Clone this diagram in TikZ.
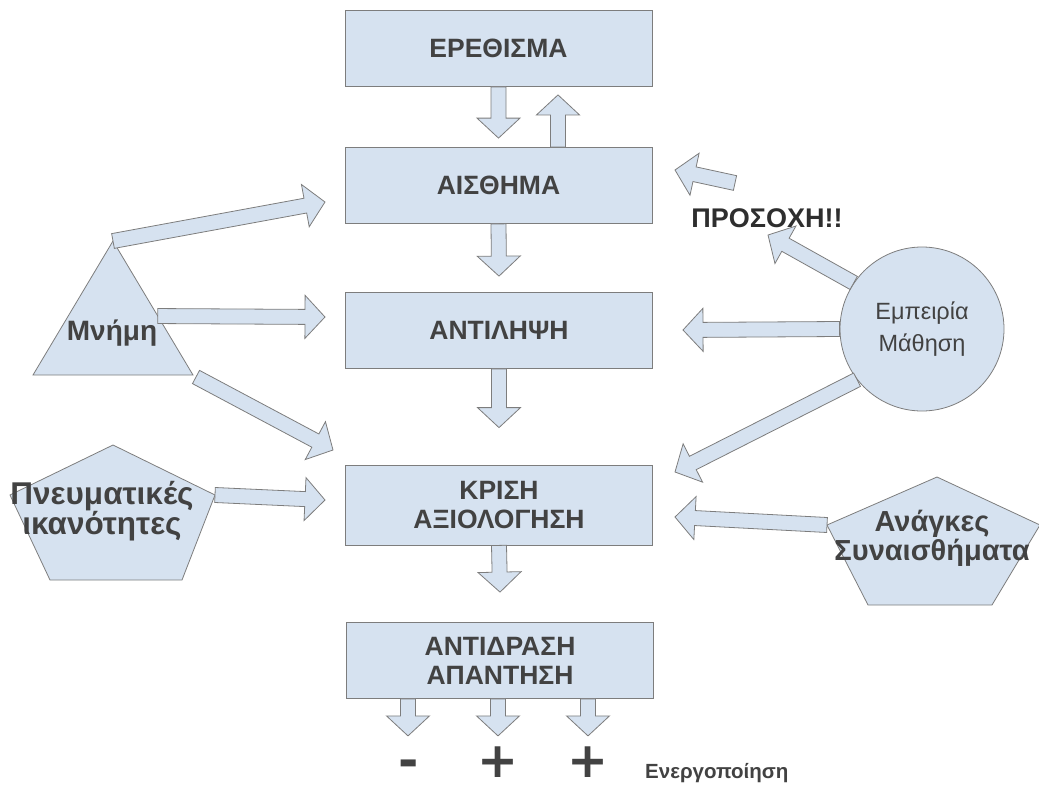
\documentclass[tikz,border=0pt]{standalone}
\usepackage{fontspec}
\setmainfont{Liberation Sans}
\newfontfamily\signfont{DejaVu Sans}
\usepackage{tikz}
\usetikzlibrary{calc,positioning}

\definecolor{boxfill}{RGB}{214,226,240}
\definecolor{boxline}{RGB}{125,125,125}
\definecolor{ink}{RGB}{66,66,66}

\tikzset{
  stage/.style={draw=boxline, fill=boxfill, line width=0.8pt, minimum width=307pt,
    minimum height=76pt, align=center, text=ink, font=\bfseries\fontsize{26.5}{29}\selectfont},
  figfill/.style={draw=boxline, fill=boxfill, line width=0.8pt, line join=miter},
  sidetext/.style={align=center, text=ink, inner sep=0pt, font=\bfseries\fontsize{29}{29}\selectfont},
  fatarrow/.style={draw=boxline, fill=boxfill, line width=0.8pt, line join=miter},
  sign/.style={text=ink, inner sep=0pt, anchor=base, text depth=0pt,
    font=\signfont\bfseries\fontsize{49}{49}\selectfont}
}

% wide hollow arrow from #1 to #2
\newcommand\blockarrow[2]{%
  \draw[fatarrow] ($(#1)!7.5pt!90:(#2)$)
    -- ($(#2)!20pt!(#1)!7.5pt!90:(#2)$) -- ($(#2)!20pt!(#1)!21.5pt!90:(#2)$)
    -- (#2)
    -- ($(#2)!20pt!(#1)!21.5pt!-90:(#2)$) -- ($(#2)!20pt!(#1)!7.5pt!-90:(#2)$)
    -- ($(#1)!7.5pt!-90:(#2)$) -- cycle;}

\begin{document}
\begin{tikzpicture}[x=1pt,y=-1pt]
\useasboundingbox (0,0) rectangle (1039,790);

%%% HELP LINES - uncomment to design
% \draw[step=50,gray,very thin] (0,0) grid (1039,790);

%% Main column
\node[stage] (erethisma) at (498.5,48.5) {ΕΡΕΘΙΣΜΑ};
\node[stage] (aisthima) at (498.5,185.5) {ΑΙΣΘΗΜΑ};
\node[stage] (antilipsi) at (499,330.5) {ΑΝΤΙΛΗΨΗ};
\node[stage, minimum height=80pt] (krisi) at (499,505) {ΚΡΙΣΗ\\ΑΞΙΟΛΟΓΗΣΗ};
\node[stage] (antidrasi) at (500,660.5) {ΑΝΤΙΔΡΑΣΗ\\ΑΠΑΝΤΗΣΗ};

% down / up between boxes
\coordinate (d1) at ($(aisthima.north)+(0,-9)$);
\blockarrow{erethisma.south}{d1}
\coordinate (u0) at ($(aisthima.north)+(59.5,0)$);
\coordinate (u1) at ($(erethisma.south)+(59.5,8)$);
\blockarrow{u0}{u1}
\coordinate (d2) at ($(antilipsi.north)+(0,-16)$);
\blockarrow{aisthima.south}{d2}
\coordinate (d3) at ($(krisi.north)+(0,-37)$);
\blockarrow{antilipsi.south}{d3}
\coordinate (d4) at ($(antidrasi.north)+(0,-30)$);
\blockarrow{krisi.south}{d4}

%% Mnimi (triangle)
\coordinate (mn-top) at (113,241);
\coordinate (mn-right) at (193,375);
\coordinate (mn-left) at (33,375);
\draw[figfill] (mn-top) -- (mn-right) -- (mn-left) -- cycle;
\node[sidetext, font=\bfseries\fontsize{28}{28}\selectfont] (mnimi) at (112,333) {Μνήμη};

\coordinate (mn-t1) at (325,202);
\blockarrow{mn-top}{mn-t1}
\coordinate (mn-s2) at ($(mn-top)!0.56!(mn-right)$);
\coordinate (mn-t2) at (325,317);
\blockarrow{mn-s2}{mn-t2}
\coordinate (mn-s3) at ($(mn-right)+(3,2)$);
\coordinate (mn-t3) at (333,450);
\blockarrow{mn-s3}{mn-t3}

%% Pneumatikes (pentagon)
\coordinate (pn-top) at (113,445);
\coordinate (pn-right) at (215,495);
\coordinate (pn-br) at (182,580);
\coordinate (pn-bl) at (50,580);
\coordinate (pn-left) at (10,495);
\draw[figfill] (pn-top) -- (pn-right) -- (pn-br) -- (pn-bl) -- (pn-left) -- cycle;
\node[sidetext, font=\bfseries\fontsize{31.5}{29}\selectfont] (pneumatikes) at (102,511)
  {Πνευματικές\\ικανότητες};

\coordinate (pn-t) at (325,500);
\blockarrow{pn-right}{pn-t}

%% Empeiria (circle)
\node[figfill, circle, minimum size=164pt, inner sep=0pt, align=center, text=ink,
  font=\fontsize{23.5}{32}\selectfont] (empeiria) at (922,329) {Εμπειρία\\Μάθηση};

\node[text=black!82, inner sep=0pt, font=\bfseries\fontsize{27}{28}\selectfont]
  (prosoxi) at (767,218) {ΠΡΟΣΟΧΗ!!};

\coordinate (em-t1) at (768,235);
\blockarrow{empeiria.146}{em-t1}
\coordinate (em-t2) at (683,330);
\blockarrow{empeiria.west}{em-t2}
\coordinate (em-t3) at (675,472);
\blockarrow{empeiria.218}{em-t3}

% attention arrow
\coordinate (at-s) at (735,183);
\coordinate (at-t) at (675,170);
\blockarrow{at-s}{at-t}

%% Anagkes (pentagon)
\coordinate (an-top) at (937,477);
\coordinate (an-right) at (1040,525);
\coordinate (an-br) at (992,605);
\coordinate (an-bl) at (868,605);
\coordinate (an-left) at (827,525);
\draw[figfill] (an-top) -- (an-right) -- (an-br) -- (an-bl) -- (an-left) -- cycle;
\node[sidetext] (anagkes) at (932,538) {Ανάγκες\\Συναισθήματα};

\coordinate (an-t) at (675,517);
\blockarrow{an-left}{an-t}

%% Outcomes
\coordinate (o1) at ($(antidrasi.south)+(-92,0)$);
\coordinate (o1t) at ($(o1)+(0,37)$);
\blockarrow{o1}{o1t}
\coordinate (o2) at ($(antidrasi.south)+(-2,0)$);
\coordinate (o2t) at ($(o2)+(0,37)$);
\blockarrow{o2}{o2t}
\coordinate (o3) at ($(antidrasi.south)+(88,0)$);
\coordinate (o3t) at ($(o3)+(0,37)$);
\blockarrow{o3}{o3t}

\node[sign] (minus) at (409,777) {-};
\node[sign] (plus1) at (498,777) {+};
\node[sign] (plus2) at (588,777) {+};
\node[text=ink, anchor=west, inner sep=0pt, font=\bfseries\fontsize{20.5}{22}\selectfont]
  (energo) at (645,773) {Ενεργοποίηση};

\end{tikzpicture}
\end{document}
